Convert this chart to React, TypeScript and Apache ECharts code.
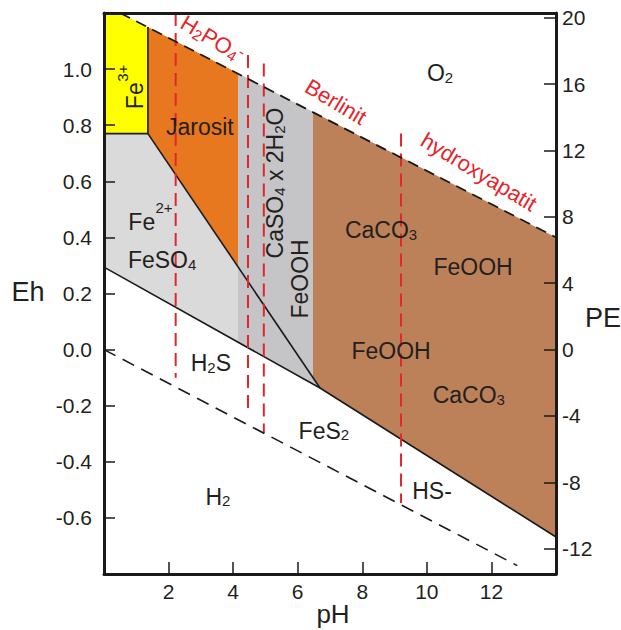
import React, { useEffect, useRef } from "react";
import * as echarts from "echarts";

// ---- axes ----
const phTicks = [2, 4, 6, 8, 10, 12];
const ehTicks = [-0.6, -0.4, -0.2, 0, 0.2, 0.4, 0.6, 0.8, 1.0];
const peTicks = [-12, -8, -4, 0, 4, 8, 12, 16, 20];
const phRange = [0, 14];
const ehRange = [-0.8, 1.2];
const peRange = [-13.52, 20.28];

// ---- stability fields [pH, Eh] ----
const fe3Region = [[0, 1.2], [0.5, 1.2], [1.36, 1.15], [1.36, 0.77], [0, 0.77]];
const jarositRegion = [[1.36, 1.15], [4.15, 0.985], [4.15, 0.296], [1.36, 0.77]];
const fe2Region = [[0, 0.77], [1.36, 0.77], [4.15, 0.296], [4.15, 0.027], [0, 0.294]];
const gypsumRegion = [[4.15, 0.985], [6.47, 0.848], [6.47, -0.1], [6.69, -0.137], [4.15, 0.027]];
const feoohRegion = [[6.47, 0.848], [14, 0.4], [14, -0.668], [6.69, -0.137], [6.47, -0.1]];

// ---- boundaries [pH, Eh] ----
const waterUpper = [[0.5, 1.2], [14, 0.4]];
const waterLower = [[0, 0], [12.8, -0.77]];
const fe3Border = [[0, 0.77], [1.36, 0.77], [1.36, 1.15]];
const fe2Diagonal = [[1.36, 0.77], [6.69, -0.137]];
const sulfideLine = [[0, 0.294], [6.69, -0.137], [14, -0.668]];

// ---- phosphate (red dashed) ----
const phosphate1 = [[2.22, 1.2], [2.22, -0.1]];
const phosphate2 = [[4.46, 1.05], [4.46, -0.226]];
const phosphate3 = [[4.95, 1.02], [4.95, -0.297]];
const phosphate4 = [[9.2, 0.77], [9.2, -0.547]];

// ---- labels ----
type Lab = { t: string; ph: number; eh: number; rot?: number; size?: number; red?: boolean };
const labels: Lab[] = [
  { t: "O{sub|2}", ph: 10.41, eh: 0.986 },
  { t: "Jarosit", ph: 2.97, eh: 0.794 },
  { t: "Fe", ph: 0.96, eh: 0.905, rot: 90 },
  { t: "3+", ph: 0.56, eh: 0.985, rot: 90, size: 15 },
  { t: "Fe", ph: 1.17, eh: 0.455 },
  { t: "2+", ph: 1.86, eh: 0.505, size: 15 },
  { t: "FeSO{sub|4}", ph: 1.8, eh: 0.319 },
  { t: "CaSO{sub|4} x 2H{sub|2}O", ph: 5.3, eh: 0.594, rot: 90 },
  { t: "FeOOH", ph: 6.07, eh: 0.252, rot: 90 },
  { t: "CaCO{sub|3}", ph: 8.58, eh: 0.426 },
  { t: "FeOOH", ph: 11.43, eh: 0.294 },
  { t: "FeOOH", ph: 8.89, eh: -0.005 },
  { t: "CaCO{sub|3}", ph: 11.3, eh: -0.162 },
  { t: "H{sub|2}S", ph: 3.31, eh: -0.049 },
  { t: "FeS{sub|2}", ph: 6.81, eh: -0.29 },
  { t: "H{sub|2}", ph: 3.53, eh: -0.525 },
  { t: "HS-", ph: 10.16, eh: -0.504 },
  { t: "H{sub|2}PO{sub|4}{sup|-}", ph: 3.36, eh: 1.108, rot: -31, red: true },
  { t: "Berlinit", ph: 7.18, eh: 0.883, rot: -31, red: true },
  { t: "hydroxyapatit", ph: 11.61, eh: 0.633, rot: -31, red: true },
];

const FONT = '"Liberation Sans", Arial, Helvetica, sans-serif';
const INK = "#231f20";
const RED = "#e3262b";
const FRAME = "#1a1a1a";

function polygonSeries(points: number[][], color: string) {
  return {
    type: "custom",
    xAxisIndex: 0,
    yAxisIndex: 0,
    silent: true,
    z: 1,
    clip: true,
    data: [[points[0][0], points[0][1]]],
    renderItem: (_p: any, api: any) => ({
      type: "polygon",
      shape: { points: points.map((pt) => api.coord(pt)) },
      style: { fill: color, stroke: null },
    }),
  };
}

function lineSeries(points: number[][], color: string, dash: number[] | null, z: number, width = 1.6) {
  return {
    type: "line",
    xAxisIndex: 0,
    yAxisIndex: 0,
    silent: true,
    z,
    showSymbol: false,
    symbol: "none",
    data: points,
    lineStyle: { color, width, type: dash ? dash : "solid" },
  };
}

export default function App() {
  const ref = useRef<HTMLDivElement>(null);
  useEffect(() => {
    if (!ref.current) return;
    const chart = echarts.init(ref.current, undefined, { renderer: "svg" });
    const axisLineStyle = { color: FRAME, width: 3 };
    const tickStyle = { color: FRAME, width: 1.5 };
    const option: any = {
      animation: false,
      backgroundColor: "#ffffff",
      grid: { left: 104, top: 13, width: 452, height: 561, containLabel: false, outerBoundsMode: "none" },
      xAxis: [
        {
          type: "value",
          min: phRange[0],
          max: phRange[1],
          position: "bottom",
          z: 10,
          axisLine: { show: true, onZero: false, lineStyle: axisLineStyle },
          axisTick: { show: true, inside: true, length: 12, customValues: phTicks, lineStyle: tickStyle },
          axisLabel: { customValues: phTicks, fontSize: 21, color: INK, margin: 7, fontFamily: FONT },
          splitLine: { show: false },
        },
        {
          type: "value",
          min: phRange[0],
          max: phRange[1],
          position: "top",
          z: 10,
          axisLine: { show: true, onZero: false, lineStyle: axisLineStyle },
          axisTick: { show: false },
          axisLabel: { show: false },
          splitLine: { show: false },
        },
      ],
      yAxis: [
        {
          type: "value",
          min: ehRange[0],
          max: ehRange[1],
          position: "left",
          z: 10,
          axisLine: { show: true, onZero: false, lineStyle: axisLineStyle },
          axisTick: { show: true, inside: true, length: 11, customValues: ehTicks, lineStyle: tickStyle },
          axisLabel: {
            customValues: ehTicks,
            fontSize: 21,
            color: INK,
            margin: 12,
            fontFamily: FONT,
            formatter: (v: number) => v.toFixed(1),
          },
          splitLine: { show: false },
        },
        {
          type: "value",
          min: peRange[0],
          max: peRange[1],
          position: "right",
          z: 10,
          axisLine: { show: true, onZero: false, lineStyle: axisLineStyle },
          axisTick: { show: true, inside: true, length: 12, customValues: peTicks, lineStyle: tickStyle },
          axisLabel: { customValues: peTicks, fontSize: 21, color: INK, margin: 6, fontFamily: FONT },
          splitLine: { show: false },
        },
      ],
      graphic: [
        { type: "text", x: 28, y: 292, style: { text: "Eh", fontSize: 27, fontFamily: FONT, fill: INK, align: "center", verticalAlign: "middle" } },
        { type: "text", x: 603, y: 318, style: { text: "PE", fontSize: 27, fontFamily: FONT, fill: INK, align: "center", verticalAlign: "middle" } },
        { type: "text", x: 333, y: 614, style: { text: "pH", fontSize: 26, fontFamily: FONT, fill: INK, align: "center", verticalAlign: "middle" } },
      ],
      series: [
        polygonSeries(fe3Region, "#ffff00"),
        polygonSeries(jarositRegion, "#e8781f"),
        polygonSeries(fe2Region, "#dadada"),
        polygonSeries(gypsumRegion, "#c5c5c7"),
        polygonSeries(feoohRegion, "#bd8159"),
        lineSeries(fe3Border, "#1a1a1a", null, 3),
        lineSeries(fe2Diagonal, "#1a1a1a", null, 3),
        lineSeries(sulfideLine, "#1a1a1a", null, 3),
        lineSeries(phosphate1, RED, [13, 7], 4, 2),
        lineSeries(phosphate2, RED, [13, 7], 4, 2),
        lineSeries(phosphate3, RED, [13, 7], 4, 2),
        lineSeries(phosphate4, RED, [13, 7], 4, 2),
        lineSeries(waterUpper, "#1a1a1a", [11, 7], 5, 1.8),
        lineSeries(waterLower, "#1a1a1a", [13, 8], 5, 1.6),
        {
          type: "custom",
          xAxisIndex: 0,
          yAxisIndex: 0,
          silent: true,
          z: 6,
          clip: false,
          data: labels.map((l) => [l.ph, l.eh]),
          renderItem: (params: any, api: any) => {
            const l = labels[params.dataIndex];
            const p = api.coord([l.ph, l.eh]);
            const size = l.size || (l.red ? 22 : 23);
            return {
              type: "text",
              x: p[0],
              y: p[1],
              rotation: ((l.rot || 0) * Math.PI) / 180,
              style: {
                text: l.t,
                fill: l.red ? RED : INK,
                fontSize: size,
                fontFamily: FONT,
                align: "center",
                verticalAlign: "middle",
                rich: {
                  sub: { fontSize: 15, fontFamily: FONT, fill: l.red ? RED : INK, verticalAlign: "bottom", padding: [6, 0, 0, 0] },
                  sup: { fontSize: 16, fontFamily: FONT, fill: l.red ? RED : INK, verticalAlign: "top", padding: [0, 0, 8, 0] },
                },
              },
            };
          },
        },
      ],
    };
    chart.setOption(option);
    return () => chart.dispose();
  }, []);
  return (
    <div
      ref={ref}
      style={{ position: "fixed", left: 0, top: 0, width: 621, height: 630, background: "#fff" }}
    />
  );
}
